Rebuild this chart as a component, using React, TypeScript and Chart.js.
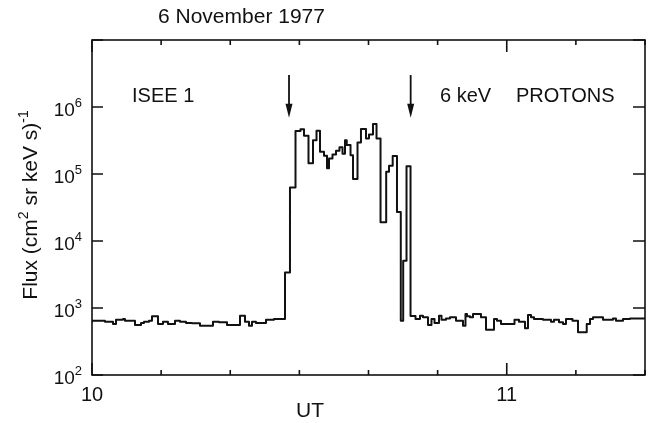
import React, { useEffect, useRef } from 'react';
import { Chart, registerables } from 'chart.js';

Chart.register(...registerables);

// Time in minutes after 10:00 UT (each value holds until the next time)
const utMinutesAfter10 = [
  0, 1.88, 3.04, 3.47, 4.48, 4.77, 6.22, 7.09, 7.52, 8.25, 8.68, 9.55, 10.27, 10.99,
  12.01, 12.73, 13.6, 14.47, 15.62, 17.5, 18.37, 19.53, 21.41, 22.13, 22.71, 23.15,
  23.72, 25.17, 26.33, 27.92,
  28.64, 29.44, 30.16, 30.67, 31.32, 31.97, 32.48, 32.98, 33.56, 34.0, 34.29, 34.79,
  35.3, 35.8, 36.24, 36.6, 36.85, 37.4, 37.76, 38.41, 38.91, 39.64, 40.07, 40.65,
  41.16, 41.74, 42.56, 42.97, 43.5, 44.12, 44.67, 45.02, 45.5, 46.08, 46.8,
  47.45, 47.88, 48.61, 49.11, 49.55, 50.2, 50.56, 51.21, 51.79, 52.66, 53.67, 54.03,
  54.25, 54.68, 55.12, 56.27, 57.0, 58.16, 58.59, 59.17, 61.12, 61.77, 62.64, 63.07,
  63.51, 63.94, 65.24, 66.4, 66.84, 67.56, 68.14, 68.57, 69.51, 70.31, 71.57, 72.04,
  72.48, 73.92, 75.37, 75.8, 76.82, 77.83, 78.84, 80,
];

// 6 keV proton flux, (cm^2 sr keV s)^-1
const protonFlux = [
  625, 646, 625, 577, 669, 685, 646, 557, 597, 625, 646, 751, 577, 625,
  577, 646, 625, 597, 591, 545, 625, 611, 557, 767, 625, 545,
  625, 597, 669, 685,
  3400, 63000, 440000, 465000, 372000, 145000, 320000, 443000, 215000, 188000, 122000, 170000,
  195000, 223000, 250000, 200000, 320000, 270000, 190000, 84000, 295000, 470000, 340000, 390000,
  557000, 340000, 19000, 108000, 133000, 186000, 27000, 646, 5080, 130000, 760,
  685, 767, 725, 557, 685, 597, 767, 669, 700, 725, 646, 545,
  813, 751, 725, 813, 725, 474, 685, 646, 577, 669, 625, 497,
  786, 725, 685, 669, 625, 669, 611, 577, 685, 646, 434, 577,
  685, 725, 669, 700, 646, 685, 700, 700,
];

const xMajorTickMinutes = [0, 60];
const xMajorTickLabels = ['10', '11'];
const yLabelExponents = [2, 3, 4, 5, 6];
const plotTitle = '6 November 1977';
const xAxisTitle = 'UT';
const yAxisTitleParts = ['Flux (cm', '2', ' sr keV s)', '-1'];
const spacecraftLabel = 'ISEE 1';
const energyLabel = '6 keV';
const speciesLabel = 'PROTONS';
const arrowMinutes = [28.5, 46.1];
const arrowTopFlux = 3.0e6;
const arrowTipFlux = 6.9e5;

const FONT = '"Liberation Sans", Arial, Helvetica, sans-serif';
const INK = '#111';

const isDecade = (v: number) => {
  const l = Math.log10(v);
  return Math.abs(l - Math.round(l)) < 1e-9;
};

const decorPlugin = {
  id: 'decor',
  afterDraw(chart: any) {
    const { ctx, chartArea: a, scales } = chart;
    const xs = scales.x;
    const ys = scales.y;
    ctx.save();
    ctx.strokeStyle = INK;
    ctx.fillStyle = INK;
    ctx.lineWidth = 1.6;
    ctx.lineCap = 'butt';
    ctx.strokeRect(a.left, a.top, a.right - a.left, a.bottom - a.top);

    // x ticks (inward)
    ctx.beginPath();
    xs.ticks.forEach((t: any) => {
      const px = xs.getPixelForValue(t.value);
      const len = xMajorTickMinutes.includes(t.value) ? 12 : 5;
      ctx.moveTo(px, a.bottom);
      ctx.lineTo(px, a.bottom - len);
      ctx.moveTo(px, a.top);
      ctx.lineTo(px, a.top + len);
    });
    // y ticks (inward, decades)
    ys.ticks.forEach((t: any) => {
      if (!isDecade(t.value)) return;
      const py = ys.getPixelForValue(t.value);
      ctx.moveTo(a.left, py);
      ctx.lineTo(a.left + 11, py);
      ctx.moveTo(a.right, py);
      ctx.lineTo(a.right - 12, py);
    });
    ctx.stroke();

    // y tick labels 10^n
    ctx.textBaseline = 'alphabetic';
    ctx.textAlign = 'left';
    yLabelExponents.forEach((e) => {
      const py = ys.getPixelForValue(Math.pow(10, e));
      const sup = String(e);
      ctx.font = `13px ${FONT}`;
      const wSup = ctx.measureText(sup).width;
      ctx.font = `19px ${FONT}`;
      const wBase = ctx.measureText('10').width;
      const right = a.left - 10;
      ctx.fillText('10', right - wSup - wBase, py + 8.5);
      ctx.font = `13px ${FONT}`;
      ctx.fillText(sup, right - wSup, py - 0.5);
    });

    // y axis title
    ctx.save();
    ctx.translate(29, 205);
    ctx.rotate(-Math.PI / 2);
    const sizes = [21, 14, 21, 14];
    let total = 0;
    yAxisTitleParts.forEach((p, i) => {
      ctx.font = `${sizes[i]}px ${FONT}`;
      total += ctx.measureText(p).width;
    });
    let cx = -total / 2;
    yAxisTitleParts.forEach((p, i) => {
      ctx.font = `${sizes[i]}px ${FONT}`;
      const isSup = i % 2 === 1;
      ctx.fillText(p, cx, isSup ? -1.5 : 7.5);
      cx += ctx.measureText(p).width;
    });
    ctx.restore();

    // titles and labels
    ctx.font = `21px ${FONT}`;
    ctx.fillText(plotTitle, 158, 23);
    ctx.fillText(xAxisTitle, 296, 417);
    ctx.font = `20px ${FONT}`;
    ctx.fillText(spacecraftLabel, a.left + 40, a.top + 62);
    ctx.fillText(energyLabel, a.left + 348, a.top + 62);
    ctx.fillText(speciesLabel, a.left + 424, a.top + 62);

    // arrows
    ctx.lineWidth = 1.8;
    arrowMinutes.forEach((m) => {
      const px = xs.getPixelForValue(m);
      const y0 = ys.getPixelForValue(arrowTopFlux);
      const y1 = ys.getPixelForValue(arrowTipFlux);
      ctx.beginPath();
      ctx.moveTo(px, y0);
      ctx.lineTo(px, y1 - 10);
      ctx.stroke();
      ctx.beginPath();
      ctx.moveTo(px - 3.5, y1 - 14);
      ctx.lineTo(px + 3.5, y1 - 14);
      ctx.lineTo(px, y1);
      ctx.closePath();
      ctx.fill();
    });
    ctx.restore();
  },
};

export default function App() {
  const ref = useRef<HTMLCanvasElement>(null);
  useEffect(() => {
    const chart = new Chart(ref.current as HTMLCanvasElement, {
      type: 'line',
      data: {
        datasets: [
          {
            data: utMinutesAfter10.map((m, i) => ({ x: m, y: protonFlux[i] })),
            stepped: 'after',
            borderColor: INK,
            borderWidth: 2,
            pointRadius: 0,
            fill: false,
            borderJoinStyle: 'round',
            borderCapStyle: 'round',
          } as any,
        ],
      },
      options: {
        responsive: false,
        animation: false,
        devicePixelRatio: 1,
        layout: { padding: { left: 92, right: 8, top: 40, bottom: 0 } },
        plugins: { legend: { display: false }, tooltip: { enabled: false }, title: { display: false } },
        scales: {
          x: {
            type: 'linear',
            min: 0,
            max: 80,
            grid: { display: false, drawTicks: false },
            border: { display: false },
            ticks: {
              stepSize: 10,
              autoSkip: false,
              maxRotation: 0,
              padding: 8,
              color: INK,
              font: { family: FONT, size: 20 },
              callback: (v: any) => {
                const i = xMajorTickMinutes.indexOf(Number(v));
                return i >= 0 ? xMajorTickLabels[i] : '';
              },
            },
            afterFit: (s: any) => {
              s.height = 48;
            },
          },
          y: {
            type: 'logarithmic',
            min: 100,
            max: 1e7,
            display: false,
          },
        },
      },
      plugins: [decorPlugin],
    } as any);
    return () => chart.destroy();
  }, []);
  return (
    <div style={{ position: 'fixed', left: 0, top: 0, width: 653, height: 423, background: '#fff' }}>
      <canvas ref={ref} width={653} height={423} style={{ display: 'block', width: 653, height: 423 }} />
    </div>
  );
}
